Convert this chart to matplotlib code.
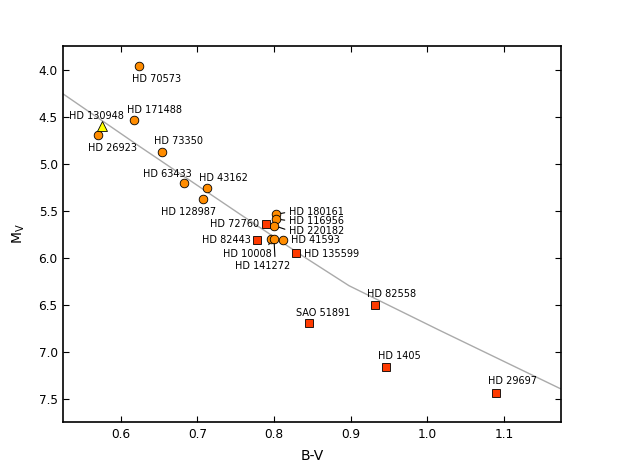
import matplotlib
matplotlib.use('Agg')
import matplotlib.pyplot as plt

# Main-sequence reference curve (B-V, M_V)
ms_bv = [0.525, 0.625, 0.755, 0.833, 0.898, 1.015, 1.18]
ms_mv = [4.26, 4.82, 5.535, 5.96, 6.30, 6.77, 7.42]

# Circles (orange)
circle_names = ['HD 70573', 'HD 171488', 'HD 26923', 'HD 73350', 'HD 63433',
                'HD 43162', 'HD 128987', 'HD 180161', 'HD 116956', 'HD 220182',
                'HD 10008', 'HD 141272', 'HD 41593']
circle_bv = [0.624, 0.618, 0.570, 0.654, 0.682, 0.712, 0.708, 0.803, 0.803,
             0.800, 0.796, 0.800, 0.812]
circle_mv = [3.96, 4.54, 4.70, 4.88, 5.21, 5.26, 5.38, 5.54, 5.59, 5.66,
             5.80, 5.80, 5.81]

# Squares (red)
square_names = ['HD 72760', 'HD 82443', 'HD 135599', 'HD 82558', 'SAO 51891',
                'HD 1405', 'HD 29697']
square_bv = [0.789, 0.778, 0.829, 0.932, 0.846, 0.946, 1.090]
square_mv = [5.64, 5.81, 5.95, 6.51, 6.70, 7.16, 7.44]

# Triangle (yellow)
tri_names = ['HD 130948']
tri_bv = [0.576]
tri_mv = [4.60]

# label placement: name -> (dx px, dy px up, ha, arrow relpos or None)
label_pos = {
    'HD 70573': (17, -13, 'center', None),
    'HD 171488': (20.5, 10, 'center', None),
    'HD 130948': (-6, 10, 'center', None),
    'HD 26923': (15, -13, 'center', None),
    'HD 73350': (16.5, 11.3, 'center', None),
    'HD 63433': (-16, 9.3, 'center', None),
    'HD 43162': (16.5, 10, 'center', None),
    'HD 128987': (-14.5, -12.3, 'center', None),
    'HD 180161': (12.6, 2.3, 'left', (0, 0.5)),
    'HD 116956': (12.6, -1.7, 'left', (0, 0.5)),
    'HD 220182': (15, -5, 'left', (0, 0.5)),
    'HD 72760': (-6.7, 0, 'right', None),
    'HD 82443': (-6.6, -0.7, 'right', None),
    'HD 10008': (-23.5, -15, 'center', (0.91, 1.0)),
    'HD 141272': (-11, -27, 'center', (0.72, 1.0)),
    'HD 41593': (7.7, -0.7, 'left', None),
    'HD 135599': (8.3, -1.6, 'left', None),
    'HD 82558': (16.5, 11.3, 'center', None),
    'SAO 51891': (13.6, 10.3, 'center', None),
    'HD 1405': (13.5, 10.7, 'center', None),
    'HD 29697': (16.5, 11.7, 'center', None),
}

fig = plt.figure(figsize=(6.23, 4.70), dpi=100)
ax = fig.add_axes([0.1015, 0.1021, 0.7995, 0.7999])

ax.plot(ms_bv, ms_mv, color='#aaaaaa', lw=1.0, zorder=1)
ax.plot(circle_bv, circle_mv, 'o', ms=6.2, mfc='#ff8c00', mec='black', mew=0.6,
        ls='none', zorder=3)
ax.plot(square_bv, square_mv, 's', ms=6.0, mfc='#ff3a00', mec='black', mew=0.6,
        ls='none', zorder=3)
ax.plot(tri_bv, tri_mv, '^', ms=6.5, mfc='#ffff00', mec='black', mew=0.6,
        ls='none', zorder=4)

allpts = list(zip(circle_names, circle_bv, circle_mv)) + \
    list(zip(square_names, square_bv, square_mv)) + \
    list(zip(tri_names, tri_bv, tri_mv))

for name, bx, my in allpts:
    dx, dy, ha, rel = label_pos[name]
    kw = {}
    if rel is not None:
        kw['arrowprops'] = dict(arrowstyle='-', color='black', lw=0.8,
                                shrinkA=1, shrinkB=3.5, relpos=rel)
    ax.annotate(name, (bx, my), xytext=(dx, dy), textcoords='offset pixels',
                ha=ha, va='center', fontsize=7, zorder=5, **kw)

ax.set_xlim(0.525, 1.175)
ax.set_ylim(7.75, 3.75)
ax.set_xticks([0.6, 0.7, 0.8, 0.9, 1.0, 1.1])
ax.set_yticks([4.0, 4.5, 5.0, 5.5, 6.0, 6.5, 7.0, 7.5])
ax.tick_params(direction='in', top=True, right=True, length=4, width=0.8,
               labelsize=8.7, pad=4)
for s in ax.spines.values():
    s.set_linewidth(1.2)
ax.set_xlabel('B-V', fontsize=10, labelpad=6)
ax.set_ylabel(r'$\mathregular{M_V}$', fontsize=10, labelpad=8)

fig.savefig('out.png', dpi=100)
